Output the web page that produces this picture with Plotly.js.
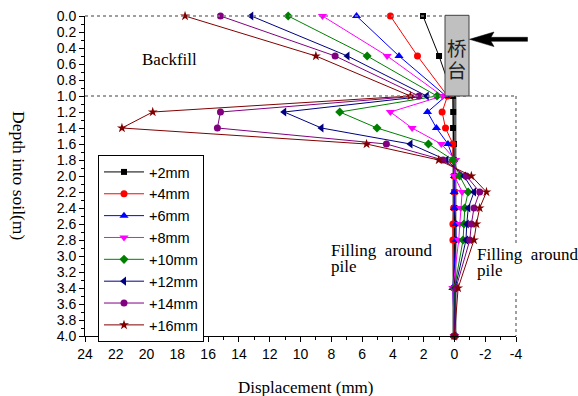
<!DOCTYPE html>
<html>
<head>
<meta charset="utf-8">
<script src="https://cdn.plot.ly/plotly-3.0.1.min.js"></script>
<style>html,body{margin:0;padding:0;background:#fff;}#chart{width:578px;height:396px;}</style>
</head>
<body>
<div id="chart"></div>
<script>
// Depth into soil (m)
const depth = [0, 0.5, 1.0, 1.2, 1.4, 1.6, 1.8, 2.0, 2.2, 2.4, 2.6, 2.8, 3.4, 4.0];
// Displacement (mm) for each loading step
const s2  = [2.04, 1.0, 0.1, 0.08, 0.09, 0.03, 0.05, 0.0, 0.0, 0.0, 0.0, 0.0, 0.0, 0.0];
const s4  = [4.16, 2.4, 0.45, 0.8, 0.58, 0.1, 0.1, 0.0, 0.0, 0.05, 0.1, 0.1, 0.05, 0.0];
const s6  = [6.36, 3.6, 0.55, 1.75, 1.17, 0.42, 0.05, 0.0, 0.02, 0.0, -0.1, -0.1, 0.1, 0.0];
const s8  = [8.57, 4.37, 0.78, 4.16, 2.75, 0.85, -0.08, 0.0, -0.5, -0.41, -0.35, -0.28, 0.1, 0.0];
const s10 = [10.8, 5.67, 1.13, 7.45, 5.03, 1.69, 0.09, -0.34, -0.89, -0.67, -0.62, -0.56, 0.0, 0.0];
const s12 = [13.2, 6.95, 1.8, 11.06, 8.64, 2.86, 0.52, -0.62, -1.27, -0.9, -0.8, -0.75, -0.05, 0.0];
const s14 = [15.2, 7.75, 2.3, 15.2, 15.4, 4.42, 0.74, -0.78, -1.64, -1.27, -1.1, -1.0, -0.1, 0.0];
const s16 = [17.5, 9.0, 2.86, 19.6, 21.6, 5.71, 1.02, -1.1, -2.08, -1.64, -1.43, -1.27, -0.24, 0.0];

const seriesNames = ['+2mm', '+4mm', '+6mm', '+8mm', '+10mm', '+12mm', '+14mm', '+16mm'];
const seriesData = [s2, s4, s6, s8, s10, s12, s14, s16];
const colors = ['#000000', '#ff0000', '#0000ff', '#ff00ff', '#008000', '#000080', '#800080', '#800000'];
const symbols = ['square', 'circle', 'triangle-up', 'triangle-down', 'diamond', 'triangle-left', 'circle', 'star'];
const sizes = [6, 7, 8, 8, 7, 8, 7, 7.5];

const xTickVals = [24, 22, 20, 18, 16, 14, 12, 10, 8, 6, 4, 2, 0, -2, -4];
const xTickText = ['24', '22', '20', '18', '16', '14', '12', '10', '8', '6', '4', '2', '0', '-2', '-4'];

const pileTop = 1.0, pileBottom = 4.0;

const traces = seriesData.map((v, i) => ({
  type: 'scatter', mode: 'lines+markers', name: seriesNames[i],
  x: v, y: depth, cliponaxis: false,
  line: {color: colors[i], width: 1},
  marker: {color: colors[i], symbol: symbols[i], size: sizes[i], line: {width: 0}}
}));

// pixel -> paper helpers (plot area 85..516 x 16..336)
const L = 85, R = 516, T = 16, B = 336;
const X = px => (px - L) / (R - L);
const Y = py => (B - py) / (B - T);

const serif = 'Liberation Serif, Times New Roman, serif';
const sans = 'Liberation Sans, Arial, sans-serif';
const cjk = 'Noto Sans CJK SC, sans-serif';

const dot = {color: '#808080', width: 1.5, dash: 'dot'};
const shapes = [
  {type: 'line', xref: 'x', yref: 'y', x0: 0, x1: 0, y0: pileTop, y1: pileBottom, line: {color: '#606060', width: 4}, layer: 'below'},
  {type: 'line', xref: 'paper', yref: 'paper', x0: X(85), x1: X(445), y0: Y(16), y1: Y(16), line: dot},
  {type: 'line', xref: 'paper', yref: 'paper', x0: X(85), x1: X(516), y0: Y(96), y1: Y(96), line: dot},
  {type: 'line', xref: 'paper', yref: 'paper', x0: X(516), x1: X(516), y0: Y(96), y1: Y(245), line: dot},
  {type: 'line', xref: 'paper', yref: 'paper', x0: X(516), x1: X(516), y0: Y(293), y1: Y(336), line: dot},
  {type: 'rect', xref: 'paper', yref: 'paper', x0: X(445), x1: X(469), y0: Y(96), y1: Y(15.3), fillcolor: '#c0c0c0', line: {color: '#404040', width: 1}, layer: 'above'},
  {type: 'path', xref: 'paper', yref: 'paper', layer: 'above', fillcolor: '#000', line: {color: '#000', width: 0.5},
   path: 'M' + X(469.5) + ',' + Y(39.3) + ' L' + X(494) + ',' + Y(32) + ' L' + X(491) + ',' + Y(37.3) +
         ' L' + X(527.5) + ',' + Y(37.3) + ' L' + X(527.5) + ',' + Y(41.3) + ' L' + X(491) + ',' + Y(41.3) +
         ' L' + X(494) + ',' + Y(46.6) + ' Z'}
];

const ann = (text, px, py, xanchor, size, family, extra) => Object.assign({
  text: text, xref: 'paper', yref: 'paper', x: X(px), y: Y(py), xanchor: xanchor, yanchor: 'middle',
  showarrow: false, font: {family: family, size: size, color: '#000'}
}, extra || {});

const annotations = [
  ann('Backfill', 169, 60, 'center', 17, serif),
  ann('Filling\u00a0 around', 329, 250, 'left', 17, serif),
  ann('pile', 329, 266, 'left', 17, serif),
  ann('Filling\u00a0 around', 474.5, 254, 'left', 17, serif),
  ann('pile', 474.5, 270, 'left', 17, serif),
  ann('桥', 457, 47.5, 'center', 19.5, cjk, {font: {family: cjk, size: 19.5, color: '#222'}}),
  ann('台', 457, 69, 'center', 19.5, cjk, {font: {family: cjk, size: 19.5, color: '#222'}}),
  ann('Displacement (mm)', 306, 387, 'center', 17, serif),
  ann('Depth into soil(m)', 19, 175, 'center', 17.5, serif, {textangle: 90})
];

const layout = {
  width: 578, height: 396,
  margin: {l: L, r: 578 - R, t: T, b: 396 - B, pad: 0},
  paper_bgcolor: '#fff', plot_bgcolor: '#fff',
  showlegend: true,
  legend: {x: X(98), y: Y(155), xanchor: 'left', yanchor: 'top', bgcolor: '#fff', bordercolor: '#000', borderwidth: 1,
           font: {family: sans, size: 14.5, color: '#000'}, itemwidth: 40, tracegroupgap: 0},
  xaxis: {range: [24, -4], autorange: false, tickmode: 'array', tickvals: xTickVals, ticktext: xTickText,
          ticks: 'outside', ticklen: 5, tickwidth: 1, tickcolor: '#000',
          minor: {tickmode: 'linear', tick0: 0, dtick: 1, ticks: 'outside', ticklen: 3, tickcolor: '#000'},
          showline: true, linecolor: '#000', linewidth: 1, showgrid: false, zeroline: false,
          tickfont: {family: sans, size: 14, color: '#000'}},
  yaxis: {range: [4, 0], autorange: false, tick0: 0, dtick: 0.2, tickformat: '.1f',
          ticks: 'outside', ticklen: 5, tickwidth: 1, tickcolor: '#000',
          minor: {tick0: 0, dtick: 0.1, ticks: 'outside', ticklen: 3, tickcolor: '#000'},
          showline: true, linecolor: '#000', linewidth: 1, showgrid: false, zeroline: false,
          tickfont: {family: sans, size: 14, color: '#000'}},
  shapes: shapes,
  annotations: annotations
};

Plotly.newPlot('chart', traces, layout, {displayModeBar: false, staticPlot: true});
</script>
</body>
</html>
